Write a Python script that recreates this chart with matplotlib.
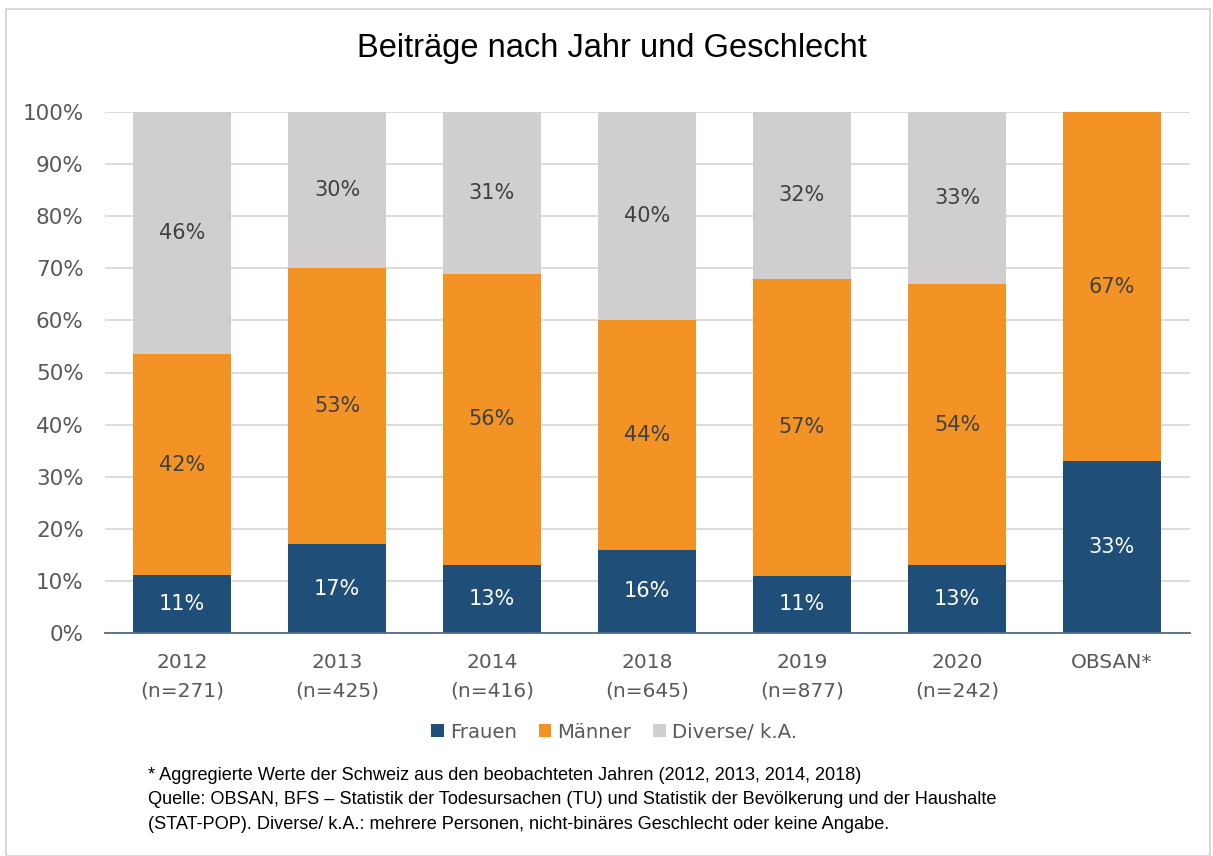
import numpy as np
import matplotlib
matplotlib.use("Agg")
import matplotlib.pyplot as plt
from matplotlib.patches import Rectangle

# data (labels as printed in the chart, stacked to 100%)
categories = ["2012\n(n=271)", "2013\n(n=425)", "2014\n(n=416)", "2018\n(n=645)",
              "2019\n(n=877)", "2020\n(n=242)", "OBSAN*"]
frauen = [11, 17, 13, 16, 11, 13, 33]
maenner = [42, 53, 56, 44, 57, 54, 67]
diverse = [46, 30, 31, 40, 32, 33, 0]

series_names = ["Frauen", "Männer", "Diverse/ k.A."]
colors = ["#1F4E79", "#F39325", "#D0CECE"]
label_colors = ["white", "#404040", "#404040"]

footnote = ("* Aggregierte Werte der Schweiz aus den beobachteten Jahren (2012, 2013, 2014, 2018)\n"
            "Quelle: OBSAN, BFS – Statistik der Todesursachen (TU) und Statistik der Bevölkerung und der Haushalte\n"
            "(STAT-POP). Diverse/ k.A.: mehrere Personen, nicht-binäres Geschlecht oder keine Angabe.")

plt.rcParams['font.family'] = ['DejaVu Sans']
narrow = ['Liberation Sans', 'DejaVu Sans']

W, H = 1213, 856
fig = plt.figure(figsize=(W / 100, H / 100), dpi=100)
ax = fig.add_axes([104.5 / W, 1 - 633 / H, 1085 / W, 521 / H])

data = np.array([frauen, maenner, diverse], dtype=float)
totals = data.sum(axis=0)
pct = data / totals * 100

x = np.arange(len(categories))
bottom = np.zeros(len(categories))
for i, name in enumerate(series_names):
    bars = ax.bar(x, pct[i], 0.63, bottom=bottom, color=colors[i], label=name, zorder=2)
    for j, b in enumerate(bars):
        if data[i, j] > 0:
            ax.text(x[j], bottom[j] + pct[i, j] / 2, "%d%%" % data[i, j],
                    ha='center', va='center', fontsize=15, color=label_colors[i], zorder=3)
    bottom += pct[i]

ax.set_xlim(-0.5, len(categories) - 0.5)
ax.set_ylim(0, 100)
ax.set_yticks(np.arange(0, 101, 10))
ax.set_yticklabels(["%d%%" % v for v in range(0, 101, 10)])
ax.set_xticks(x)
ax.set_xticklabels(categories, linespacing=1.62)
ax.tick_params(axis='both', length=0, labelcolor="#595959")
ax.tick_params(axis='y', pad=15, labelsize=15.5)
ax.tick_params(axis='x', pad=14.5, labelsize=14.5)
ax.grid(axis='y', color="#D9D9D9", linewidth=1.3, zorder=0)
for s in ['top', 'right', 'left']:
    ax.spines[s].set_visible(False)
ax.spines['bottom'].set_color("#4A6D8C")
ax.spines['bottom'].set_linewidth(1.3)
ax.spines['bottom'].set_zorder(4)

fig.text(612 / W, 1 - 48 / H, "Beiträge nach Jahr und Geschlecht", ha='center', va='center',
         fontsize=23.5, color="black", family=narrow)

fig.legend(loc='center', bbox_to_anchor=(614 / W, 1 - 732 / H), ncol=3, frameon=False,
           fontsize=14.2, labelcolor="#595959", handlelength=0.65, handleheight=0.65,
           handletextpad=0.3, columnspacing=1.1)

fig.text(148 / W, 1 - 800 / H, footnote, ha='left', va='center', fontsize=13.1,
         family=narrow, linespacing=1.57, color="black")

fig.patches.append(Rectangle((6 / W, 0), 1 - 9 / W, 1 - 9 / H, transform=fig.transFigure,
                             fill=False, edgecolor="#D9D9D9", linewidth=1.5))

fig.savefig("out.png", dpi=100)
